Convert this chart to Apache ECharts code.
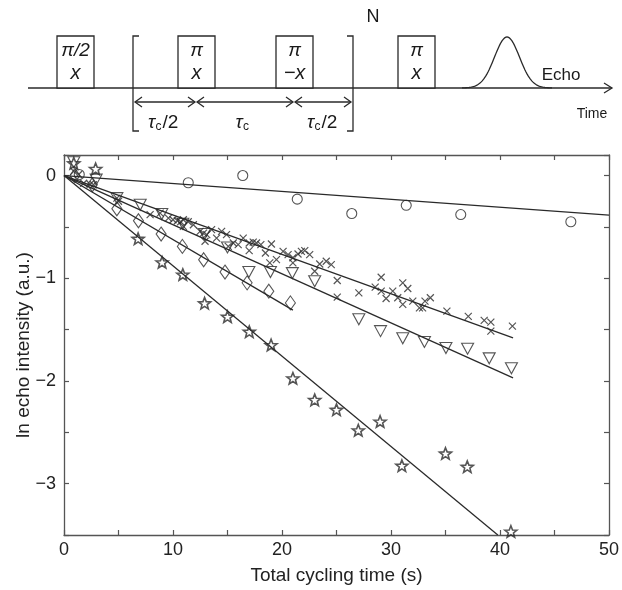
<!DOCTYPE html>
<html><head><meta charset="utf-8">
<script src="https://cdn.jsdelivr.net/npm/echarts@6/dist/echarts.min.js"></script>
<style>html,body{margin:0;padding:0;background:#fff}#c{width:622px;height:590px}</style>
</head><body><div id="c"></div>
<script>
// ---- data ----
const circleX = [1.4, 11.4, 16.4, 21.4, 26.4, 31.4, 36.4, 46.5];
const circleY = [0.01, -0.07, 0.0, -0.23, -0.37, -0.29, -0.38, -0.45];

const crossX = [0.9,1.34,1.8,2.4,2.7,4.85,5.0,7.9,8.82,9.58,10.0,10.4,10.7,10.95,10.95,11.4,11.87,12.48,12.8,13.1,12.94,13.54,14.0,14.46,14.91,15.07,15.53,15.98,16.44,16.99,16.99,17.36,17.66,18.06,18.48,19.03,19.49,20.1,18.88,20.56,21.0,21.0,21.47,21.78,22.09,22.54,23.0,23.46,24.06,24.52,25.07,25.07,27.05,28.55,29.1,29.1,29.55,30.16,30.62,31.08,31.54,31.08,32.0,32.61,32.9,33.12,33.61,35.13,37.09,38.55,39.16,39.16,41.14];
const crossY = [0.04,0.01,-0.075,-0.085,-0.09,-0.22,-0.25,-0.38,-0.366,-0.414,-0.43,-0.44,-0.45,-0.43,-0.495,-0.45,-0.479,-0.544,-0.56,-0.575,-0.64,-0.527,-0.609,-0.544,-0.576,-0.689,-0.657,-0.673,-0.609,-0.657,-0.731,-0.648,-0.657,-0.673,-0.754,-0.667,-0.818,-0.738,-0.85,-0.77,-0.80,-0.85,-0.764,-0.738,-0.731,-0.77,-0.932,-0.861,-0.835,-0.867,-1.022,-1.184,-1.143,-1.087,-0.99,-1.126,-1.197,-1.126,-1.19,-1.045,-1.10,-1.255,-1.223,-1.288,-1.288,-1.223,-1.19,-1.32,-1.372,-1.41,-1.427,-1.515,-1.466];

const triX = [0.9, 2.95, 4.85, 6.99, 8.97, 10.9, 12.9, 15.0, 16.96, 18.94, 20.95, 23.0, 27.05, 29.04, 31.08, 33.07, 35.04, 37.03, 39.01, 41.05];
const triY = [0.13, -0.04, -0.22, -0.285, -0.375, -0.47, -0.57, -0.70, -0.94, -0.94, -0.95, -1.03, -1.40, -1.515, -1.585, -1.62, -1.68, -1.686, -1.78, -1.877];

const diamondX = [1.0, 2.6, 4.85, 6.83, 8.91, 10.86, 12.81, 14.77, 16.8, 18.79, 20.77];
const diamondY = [0.0, -0.09, -0.323, -0.44, -0.57, -0.69, -0.82, -0.94, -1.045, -1.126, -1.24];

const starX = [0.9, 2.9, 6.8, 9.0, 10.9, 12.9, 15.0, 17.0, 19.0, 21.0, 23.0, 25.0, 27.0, 29.0, 31.0, 35.0, 37.0, 41.0];
const starY = [0.12, 0.065, -0.615, -0.845, -0.964, -1.243, -1.374, -1.52, -1.65, -1.974, -2.184, -2.28, -2.48, -2.395, -2.825, -2.706, -2.835, -3.466];

// fitted lines: start and end points
const fitCircle  = [[0, 0], [50, -0.385]];
const fitCross   = [[0, 0], [41.2, -1.58]];
const fitTri     = [[0, 0], [41.2, -1.97]];
const fitDiamond = [[0, 0], [21.0, -1.31]];
const fitStar    = [[0, 0], [39.8, -3.5]];

const xTicks = [0, 10, 20, 30, 40, 50];
const yTicks = [0, -1, -2, -3];

// ---- build ----
const zip = (xs, ys) => xs.map((x, i) => [x, ys[i]]);
const INK = '#2a2a2a';
const FONT = '"Liberation Sans", Arial, sans-serif';
const STAR = 'path://M0,-10 L2.6,-3.4 L9.5,-3.1 L4.1,1.3 L5.9,8.1 L0,4.2 L-5.9,8.1 L-4.1,1.3 L-9.5,-3.1 L-2.6,-3.4 Z';
const CROSS = 'path://M0,0 L10,10 M10,0 L0,10';

function scatter(data, symbol, size, extra) {
  return Object.assign({
    type: 'scatter', data: data, symbol: symbol, symbolSize: size,
    symbolKeepAspect: true, clip: false, z: 3,
    itemStyle: { color: 'rgba(255,255,255,0)', borderColor: INK, borderWidth: 1.1 },
    emphasis: { disabled: true }
  }, extra || {});
}
function fit(data) {
  return { type: 'line', data: data, symbol: 'none', z: 2,
    lineStyle: { color: INK, width: 1.3 }, emphasis: { disabled: true } };
}
const fmtMinus = v => String(v).replace('-', '\u2212');

// schematic (pulse sequence) drawn as graphic elements
const g = [];
const stroke = { stroke: INK, lineWidth: 1.3, fill: 'none' };
function line(x1, y1, x2, y2) { g.push({ type: 'line', shape: { x1, y1, x2, y2 }, style: stroke, silent: true }); }
function poly(pts) { g.push({ type: 'polyline', shape: { points: pts }, style: stroke, silent: true }); }
function txt(x, y, t, size, italic, align) {
  g.push({ type: 'text', x: x, y: y, silent: true, style: { text: t, fill: '#1a1a1a',
    font: (italic ? 'italic ' : '') + size + 'px ' + FONT, textAlign: align || 'center', textVerticalAlign: 'middle' } });
}
const BY = 88, BT = 36;
// baseline + arrow
line(28, BY, 612, BY); poly([[604, BY - 5], [612, BY], [604, BY + 5]]);
// boxes
[[57, 94], [178, 215], [276, 313], [398, 435]].forEach(b => {
  g.push({ type: 'rect', shape: { x: b[0], y: BT, width: b[1] - b[0], height: BY - BT }, style: { stroke: INK, lineWidth: 1.3, fill: '#fff' }, silent: true });
});
txt(75.5, 51, '\u03c0/2', 19, true); txt(75.5, 73, 'x', 20, true);
txt(196.5, 51, '\u03c0', 19, true); txt(196.5, 73, 'x', 20, true);
txt(294.5, 51, '\u03c0', 19, true); txt(294.5, 73, '\u2212x', 20, true);
txt(416.5, 51, '\u03c0', 19, true); txt(416.5, 73, 'x', 20, true);
// brackets
poly([[139, 36], [133, 36], [133, 131], [139, 131]]);
poly([[347, 36], [353, 36], [353, 131], [347, 131]]);
txt(373, 17, 'N', 18, false);
// echo gaussian
const gp = [];
for (let x = 462; x <= 552; x += 1) gp.push([x, BY - 51 * Math.exp(-Math.pow((x - 507) / 12.5, 2) / 2)]);
poly(gp);
txt(561, 75, 'Echo', 17, false);
txt(592, 114, 'Time', 14, false);
// double arrows
const AY = 102;
[[135, 195], [197, 293], [295, 351]].forEach(a => {
  line(a[0], AY, a[1], AY);
  poly([[a[0] + 7, AY - 5], [a[0], AY], [a[0] + 7, AY + 5]]);
  poly([[a[1] - 7, AY - 5], [a[1], AY], [a[1] - 7, AY + 5]]);
});
function tau(cx, suffix) {
  const w = suffix ? 15 : 0;
  txt(cx - 8 - w / 2, 123, '\u03c4', 19, true, 'center');
  txt(cx - 1 - w / 2, 127, 'c', 12, false, 'center');
  if (suffix) txt(cx + 3 - w / 2, 123, '/2', 19, false, 'left');
}
tau(167, true); tau(247, false); tau(326, true);

const axisBase = {
  axisLine: { show: true, onZero: false, lineStyle: { color: '#555', width: 1.3 } },
  axisTick: { show: true, inside: true, length: 5, lineStyle: { color: '#555', width: 1.2 } },
  splitLine: { show: false }
};

const option = {
  animation: false,
  backgroundColor: '#fff',
  grid: { left: 64, right: 11, top: 155, bottom: 55, show: false },
  xAxis: [
    Object.assign({ type: 'value', min: 0, max: 50, interval: 5, position: 'bottom',
      axisLabel: { fontSize: 18, color: '#222', fontFamily: FONT, margin: 6,
        formatter: v => xTicks.indexOf(v) >= 0 ? String(v) : '' },
      name: 'Total cycling time (s)', nameLocation: 'middle', nameGap: 31,
      nameTextStyle: { fontSize: 19, color: '#222', fontFamily: FONT } }, axisBase),
    Object.assign({ type: 'value', min: 0, max: 50, interval: 5, position: 'top',
      axisLabel: { show: false } }, axisBase)
  ],
  yAxis: [
    Object.assign({ type: 'value', min: -3.5, max: 0.2, interval: 0.5, position: 'left',
      axisLabel: { fontSize: 18, color: '#222', fontFamily: FONT, margin: 8,
        formatter: v => yTicks.some(t => Math.abs(t - v) < 1e-6) ? fmtMinus(Math.round(v)) : '' },
      name: 'ln echo intensity (a.u.)', nameLocation: 'middle', nameGap: 31, nameMoveOverlap: false,
      nameTextStyle: { fontSize: 19, color: '#222', fontFamily: FONT } }, axisBase),
    Object.assign({ type: 'value', min: -3.5, max: 0.2, interval: 0.5, position: 'right',
      axisLabel: { show: false } }, axisBase)
  ],
  series: [
    fit(fitCircle), fit(fitCross), fit(fitTri), fit(fitDiamond), fit(fitStar),
    scatter(zip(circleX, circleY), 'circle', 10),
    scatter(zip(crossX, crossY), CROSS, 7, { itemStyle: { color: 'none', borderColor: INK, borderWidth: 1.2 } }),
    scatter(zip(triX, triY), 'triangle', [12, 11], { symbolRotate: 180 }),
    scatter(zip(diamondX, diamondY), 'diamond', [10, 14], { symbolKeepAspect: false }),
    scatter(zip(starX, starY), STAR, 12, { itemStyle: { color: 'rgba(255,255,255,0)', borderColor: INK, borderWidth: 1.6 } })
  ],
  graphic: g
};
const chart = echarts.init(document.getElementById('c'), null, { renderer: 'canvas' });
chart.setOption(option);
</script>
</body></html>
